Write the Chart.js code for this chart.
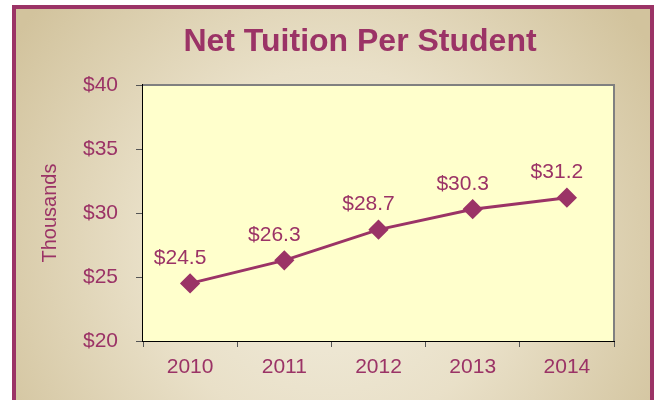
<!DOCTYPE html>
<html>
<head>
<meta charset="utf-8">
<script src="https://cdn.jsdelivr.net/npm/chart.js@4/dist/chart.umd.min.js"></script>
<style>
  html, body { margin: 0; padding: 0; background: #ffffff; }
  canvas { display: block; }
</style>
</head>
<body>
<canvas id="tuitionChart" width="654" height="400"></canvas>
<script>
// dữ liệu
const years = ['2010', '2011', '2012', '2013', '2014'];
const netTuition = [24.5, 26.3, 28.7, 30.3, 31.2];
const yTicks = [20, 25, 30, 35, 40];

const plum = '#9b3366';
const fontFamily = '"Liberation Sans", Arial, sans-serif';

// khung nền + tiêu đề
const framePlugin = {
    id: 'frame',
    beforeDraw(chart) {
        const ctx = chart.ctx;
        ctx.save();
        ctx.fillStyle = '#ffffff';
        ctx.fillRect(0, 0, chart.width, chart.height);
        const g = ctx.createRadialGradient(330, 250, 20, 330, 250, 380);
        g.addColorStop(0, '#f1ecdc');
        g.addColorStop(0.45, '#e9e0c8');
        g.addColorStop(1, '#d2c39d');
        ctx.fillStyle = g;
        ctx.fillRect(14, 7, 638, 400);
        ctx.strokeStyle = plum;
        ctx.lineWidth = 4;
        ctx.strokeRect(14, 7, 638, 400);
        ctx.restore();
    },
    beforeDatasetsDraw(chart) {
        const a = chart.chartArea;
        const ctx = chart.ctx;
        ctx.save();
        ctx.fillStyle = '#ffffcc';
        ctx.fillRect(a.left, a.top, a.right - a.left, a.bottom - a.top);
        ctx.strokeStyle = '#808080';
        ctx.lineWidth = 2;
        ctx.beginPath();
        ctx.moveTo(a.left, a.top);
        ctx.lineTo(a.right, a.top);
        ctx.lineTo(a.right, a.bottom);
        ctx.stroke();
        ctx.restore();
    },
    afterDraw(chart) {
        const ctx = chart.ctx;
        ctx.save();
        ctx.fillStyle = plum;
        ctx.font = 'bold 32px ' + fontFamily;
        ctx.textAlign = 'center';
        ctx.textBaseline = 'middle';
        ctx.fillText('Net Tuition Per Student', 360, 42);
        ctx.restore();
    }
};

// nhãn giá trị trên mỗi điểm
const valueLabels = {
    id: 'valueLabels',
    afterDatasetsDraw(chart) {
        const ctx = chart.ctx;
        const meta = chart.getDatasetMeta(0);
        ctx.save();
        ctx.fillStyle = plum;
        ctx.font = '21px ' + fontFamily;
        ctx.textAlign = 'center';
        ctx.textBaseline = 'middle';
        meta.data.forEach((pt, i) => {
            ctx.fillText('$' + netTuition[i].toFixed(1), pt.x - 10, pt.y - 25);
        });
        ctx.restore();
    }
};

new Chart(document.getElementById('tuitionChart'), {
    type: 'line',
    data: {
        labels: years,
        datasets: [{
            label: 'Net Tuition',
            data: netTuition,
            borderColor: plum,
            backgroundColor: plum,
            borderWidth: 3,
            pointStyle: 'rectRot',
            pointRadius: 8,
            pointHoverRadius: 8,
            tension: 0
        }]
    },
    options: {
        responsive: false,
        animation: false,
        layout: { padding: { left: 20, right: 40, top: 85, bottom: 0 } },
        plugins: {
            legend: { display: false },
            title: { display: false },
            tooltip: { enabled: false }
        },
        scales: {
            x: {
                offset: true,
                grid: { offset: true, drawOnChartArea: false, tickLength: 6, color: '#555555' },
                border: { color: '#000000', width: 2 },
                ticks: { color: plum, font: { size: 21, family: fontFamily }, padding: 8 },
                afterFit(scale) { scale.height = 59; }
            },
            y: {
                min: 20,
                max: 40,
                afterBuildTicks(scale) { scale.ticks = yTicks.map(v => ({ value: v })); },
                grid: { drawOnChartArea: false, tickLength: 7, color: '#555555' },
                border: { color: '#000000', width: 2 },
                ticks: {
                    color: plum,
                    font: { size: 21, family: fontFamily },
                    padding: 18,
                    callback: v => '$' + v
                },
                title: {
                    display: true,
                    text: 'Thousands',
                    color: plum,
                    font: { size: 20, family: fontFamily },
                    padding: { top: 18, bottom: 0 }
                },
                afterFit(scale) { scale.width = 123; }
            }
        }
    },
    plugins: [framePlugin, valueLabels]
});
</script>
</body>
</html>
